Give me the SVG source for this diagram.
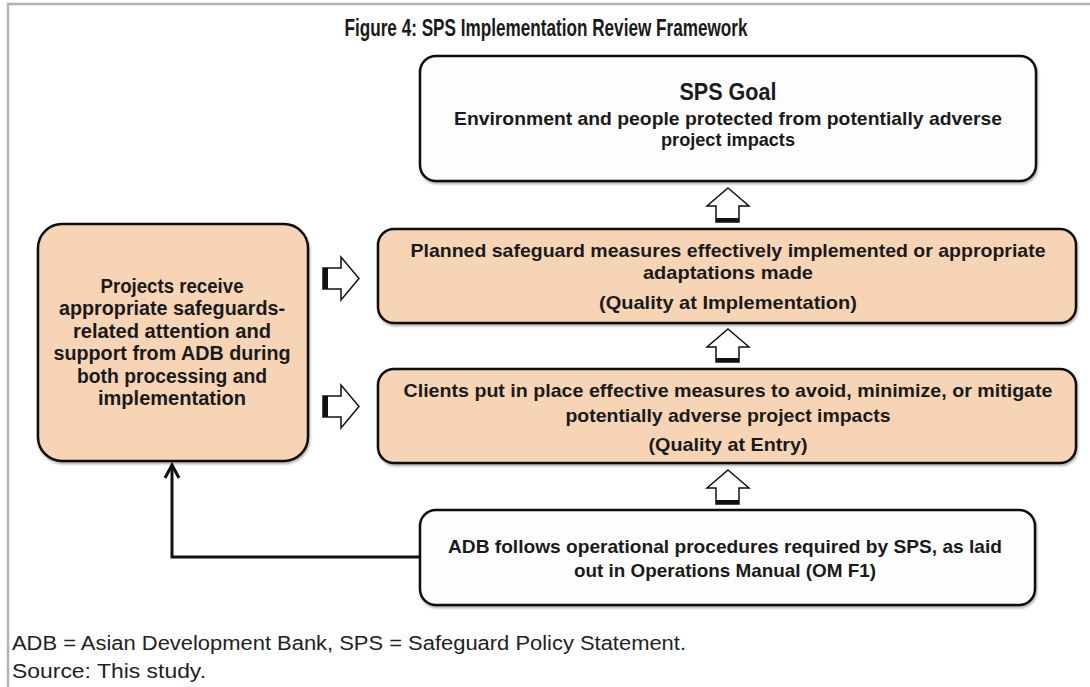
<svg xmlns="http://www.w3.org/2000/svg" width="1090" height="687" viewBox="0 0 1090 687">
  <style>
    .box { stroke: #111; stroke-width: 2.5; filter: url(#shadow); }
    .peach { fill: #f8d4b6; }
    .white { fill: #fdfdfd; }
    .t { font-family: "Liberation Sans", Arial, sans-serif; font-weight: bold; fill: #1a1a1a; text-anchor: middle; }
    .b17 { font-size: 19px; }
    .b18 { font-size: 20px; }
    .foot { font-family: "Liberation Sans", Arial, sans-serif; font-size: 20px; fill: #222; }
    .blk { fill: #fff; stroke: #111; stroke-width: 1.5; }
    .bar { fill: #111; }
    .conn { fill: none; stroke: #111; stroke-width: 3; }
  </style>
  <defs>
    <filter id="shadow" x="-5%" y="-5%" width="110%" height="115%">
      <feDropShadow dx="1" dy="2" stdDeviation="1.2" flood-color="#000" flood-opacity="0.3"/>
    </filter>
  </defs>

  <rect width="1090" height="687" fill="#fff"/>
  <path d="M8,687 V4 H1090" fill="none" stroke="#b3b3b3" stroke-width="2.5"/>

  <text class="t" x="546" y="36" font-size="23" textLength="403" lengthAdjust="spacingAndGlyphs">Figure 4: SPS Implementation Review Framework</text>

  <g id="connectors">
    <path class="conn" d="M420,557 H172 V465"/>
    <path class="conn" d="M165,478 L172,465 L179,478" stroke-linejoin="miter"/>
    <g id="up1">
      <polygon class="blk" points="728,188 749,206 739,206 739,222 716,222 716,206 707,206"/>
      <rect class="bar" x="716" y="218" width="23" height="4"/>
    </g>
    <g id="up2">
      <polygon class="blk" points="728,329 749,347 739,347 739,362 716,362 716,347 707,347"/>
      <rect class="bar" x="716" y="358" width="23" height="4"/>
    </g>
    <g id="up3">
      <polygon class="blk" points="728,470 749,488 739,488 739,504 716,504 716,488 707,488"/>
      <rect class="bar" x="716" y="500" width="23" height="4"/>
    </g>
    <g id="right1">
      <polygon class="blk" points="359,278.5 341,257 341,268 323,268 323,289 341,289 341,300"/>
      <rect class="bar" x="323" y="268" width="5" height="21"/>
    </g>
    <g id="right2">
      <polygon class="blk" points="359,406.5 341,385 341,396 323,396 323,417 341,417 341,428"/>
      <rect class="bar" x="323" y="396" width="5" height="21"/>
    </g>
  </g>

  <g id="goal">
    <rect class="box white" x="420" y="56" width="616" height="125" rx="16"/>
    <text class="t" x="728" y="100" font-size="23" textLength="97" lengthAdjust="spacingAndGlyphs">SPS Goal</text>
    <text class="t b17" x="728" y="125" textLength="548" lengthAdjust="spacingAndGlyphs">Environment and people protected from potentially adverse</text>
    <text class="t b17" x="728" y="146" textLength="134" lengthAdjust="spacingAndGlyphs">project impacts</text>
  </g>

  <g id="planned">
    <rect class="box peach" x="378" y="229" width="698" height="94" rx="16"/>
    <text class="t b17" x="728" y="257" textLength="635" lengthAdjust="spacingAndGlyphs">Planned safeguard measures effectively implemented or appropriate</text>
    <text class="t b17" x="728" y="279" textLength="170" lengthAdjust="spacingAndGlyphs">adaptations made</text>
    <text class="t b17" x="728" y="309" textLength="258" lengthAdjust="spacingAndGlyphs">(Quality at Implementation)</text>
  </g>

  <g id="clients">
    <rect class="box peach" x="378" y="369" width="698" height="94" rx="16"/>
    <text class="t b17" x="728" y="397" textLength="649" lengthAdjust="spacingAndGlyphs">Clients put in place effective measures to avoid, minimize, or mitigate</text>
    <text class="t b17" x="728" y="422" textLength="325" lengthAdjust="spacingAndGlyphs">potentially adverse project impacts</text>
    <text class="t b17" x="728" y="451" textLength="159" lengthAdjust="spacingAndGlyphs">(Quality at Entry)</text>
  </g>

  <g id="adb">
    <rect class="box white" x="420" y="510" width="615" height="95" rx="16"/>
    <text class="t b17" x="725" y="553" textLength="554" lengthAdjust="spacingAndGlyphs">ADB follows operational procedures required by SPS, as laid</text>
    <text class="t b17" x="725" y="577" textLength="302" lengthAdjust="spacingAndGlyphs">out in Operations Manual (OM F1)</text>
  </g>

  <g id="projects">
    <rect class="box peach" x="38" y="224" width="270" height="237" rx="24"/>
    <text class="t b18" x="172" y="293" textLength="143" lengthAdjust="spacingAndGlyphs">Projects receive</text>
    <text class="t b18" x="172" y="315" textLength="226" lengthAdjust="spacingAndGlyphs">appropriate safeguards-</text>
    <text class="t b18" x="172" y="338" textLength="198" lengthAdjust="spacingAndGlyphs">related attention and</text>
    <text class="t b18" x="172" y="360" textLength="237" lengthAdjust="spacingAndGlyphs">support from ADB during</text>
    <text class="t b18" x="172" y="383" textLength="190" lengthAdjust="spacingAndGlyphs">both processing and</text>
    <text class="t b18" x="172" y="405" textLength="148" lengthAdjust="spacingAndGlyphs">implementation</text>
  </g>

  <text class="foot" x="12" y="650" textLength="674" lengthAdjust="spacingAndGlyphs">ADB = Asian Development Bank, SPS = Safeguard Policy Statement.</text>
  <text class="foot" x="12" y="678" textLength="194" lengthAdjust="spacingAndGlyphs">Source: This study.</text>
</svg>
